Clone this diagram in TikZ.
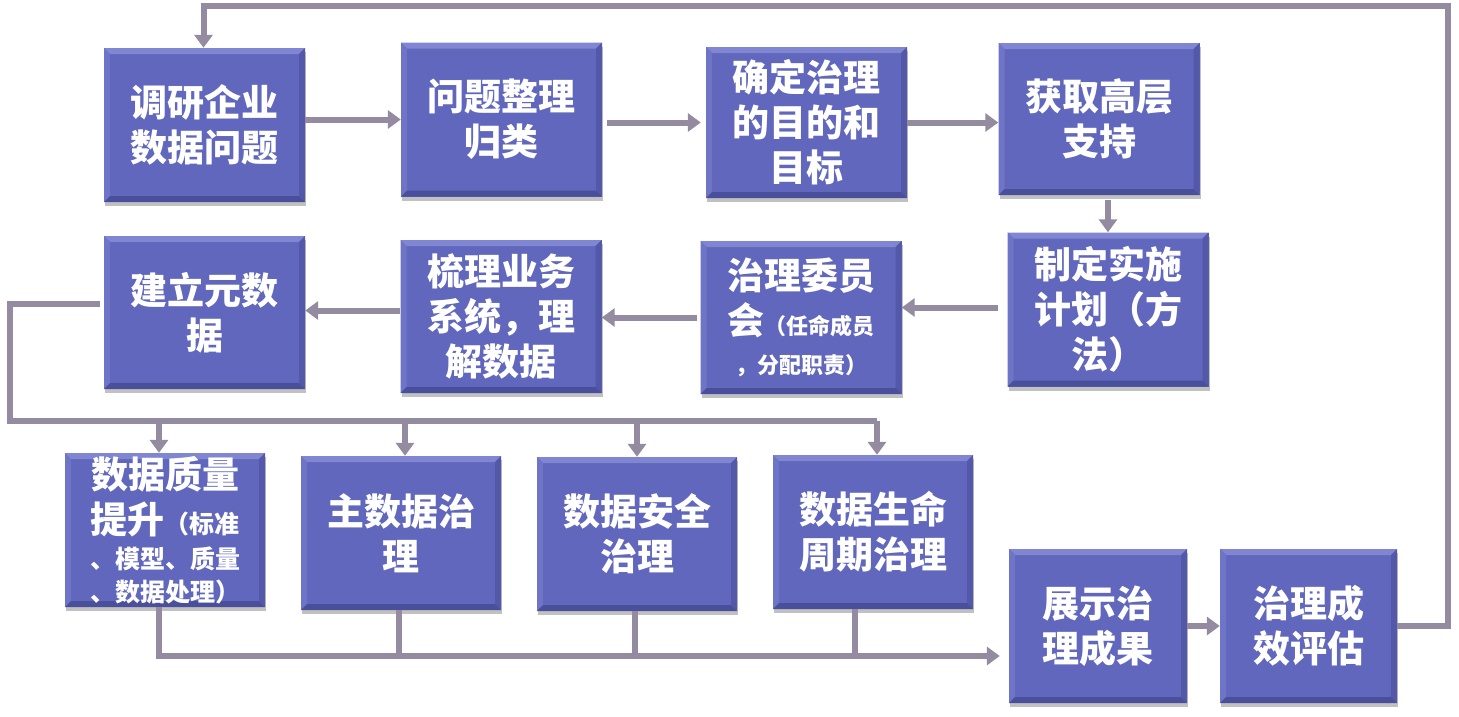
\documentclass[tikz,border=0pt]{standalone}
\usepackage{fontspec}
\newfontfamily\cjk{Noto Sans CJK SC}
\usetikzlibrary{arrows.meta,shadows,calc}
\definecolor{boxblue}{HTML}{6067BC}
\definecolor{bevtop}{HTML}{8086D2}
\definecolor{bevleft}{HTML}{6E75C6}
\definecolor{bevbot}{HTML}{4A4F9C}
\definecolor{bevright}{HTML}{5359A8}
\definecolor{linecol}{HTML}{948BA0}
\tikzset{
  procbox/.style={rectangle, minimum width=201pt, minimum height=154pt, inner sep=0pt,
    fill=boxblue, text=white, align=center,
    font=\cjk\bfseries\fontsize{37}{45}\selectfont,
    drop shadow={shadow xshift=1pt, shadow yshift=-4pt, opacity=0.35, fill=black!70},
    path picture={
      \coordinate (nw) at (path picture bounding box.north west);
      \coordinate (ne) at (path picture bounding box.north east);
      \coordinate (sw) at (path picture bounding box.south west);
      \coordinate (se) at (path picture bounding box.south east);
      \fill[bevtop] (nw) -- (ne) -- ([xshift=-6pt,yshift=-6pt]ne) -- ([xshift=6pt,yshift=-6pt]nw) -- cycle;
      \fill[bevleft] (nw) -- ([xshift=6pt,yshift=-6pt]nw) -- ([xshift=6pt,yshift=6pt]sw) -- (sw) -- cycle;
      \fill[bevright] (ne) -- ([xshift=-6pt,yshift=-6pt]ne) -- ([xshift=-6pt,yshift=6pt]se) -- (se) -- cycle;
      \fill[bevbot] (sw) -- (se) -- ([xshift=-6pt,yshift=6pt]se) -- ([xshift=6pt,yshift=6pt]sw) -- cycle;
    }},
  wire/.style={draw=linecol, line width=6pt},
  conn/.style={wire, -{Triangle[width=18pt,length=13pt]}},
}
\newcommand{\sm}{\fontsize{22}{30}\selectfont}
\newcommand{\md}{\fontsize{25}{30}\selectfont}
\begin{document}
\begin{tikzpicture}[x=1pt,y=-1pt]
\useasboundingbox (0,0) rectangle (1459,716);
% row 1
\node[procbox] (b1) at (204.5,125) {调研企业\\数据问题};
\node[procbox] (b2) at (501.5,119.5) {问题整理\\归类};
\node[procbox, minimum height=151pt] (b3) at (806.5,122.5) {确定治理\\的目的和\\目标};
\node[procbox, minimum height=152pt] (b4) at (1099,119) {获取高层\\支持};
% row 2
\node[procbox] (b5) at (1108,309.5) {制定实施\\计划（方\\法）};
\node[procbox, minimum height=153pt] (b6) at (801,317.5) {治理委员\\会{\sm（任命成员}\\[-6pt]{\sm ，分配职责）}};
\node[procbox, minimum height=153pt] (b7) at (501,316.5) {梳理业务\\系统，理\\解数据};
\node[procbox, minimum height=153pt] (b8) at (204.5,312.5) {建立元数\\据};
% row 3
\node[procbox, minimum width=200pt] (b9) at (165,530) {数据质量\\提升{\md（标准}\\[-10pt]{\md 、模型、质量}\\[-12pt]{\md 、数据处理）}};
\node[procbox, minimum width=200pt] (b10) at (401,533) {主数据治\\理};
\node[procbox, minimum width=200pt] (b11) at (637,534) {数据安全\\治理};
\node[procbox, minimum width=200pt] (b12) at (873,532) {数据生命\\周期治理};
\node[procbox, minimum width=178pt] (b13) at (1098,626) {展示治\\理成果};
\node[procbox, minimum width=177pt] (b14) at (1308.5,626) {治理成\\效评估};
% bus coordinates
\coordinate (bus) at (10,421);
\coordinate (bot) at (0,656);
\coordinate (topy) at (0,6);
\coordinate (rightx) at (1448,0);
% connectors row 1
\draw[conn] (b1.east |- b2.west) -- (b2.west);
\draw[conn] ([xshift=5pt]b2.east |- b3.west) -- ([xshift=-5pt]b3.west);
\draw[conn] (b3.east) -- (b3.east -| b4.west);
\draw[conn] ([yshift=-5pt]b4.south -| b5.north) -- (b5.north);
% row 2
\draw[conn] ([xshift=-9pt,yshift=2pt]b5.west) -- ([yshift=2pt]b5.west -| b6.east);
\draw[conn] ([xshift=-3pt]b6.west) -- (b6.west -| b7.east);
\draw[conn] ([yshift=6pt]b7.west) -- ([yshift=6pt]b7.west -| b8.east);
% distribution bus
\draw[wire] ([xshift=-4pt,yshift=9pt]b8.west) -| (bus) -- ([xshift=4pt]b12.north |- bus);
\draw[conn] ([xshift=-6pt]b9.north |- bus) -- ([xshift=-6pt]b9.north);
\draw[conn] ([xshift=4pt]b10.north |- bus) -- ([xshift=4pt]b10.north);
\draw[conn] (b11.north |- bus) -- (b11.north);
\draw[conn] ([xshift=4pt]b12.north |- bus) -- ([xshift=4pt]b12.north);
% collection bus
\draw[conn] ([xshift=-6pt]b9.south) |- ([xshift=-9pt]b13.west |- bot);
\draw[wire] ([xshift=-2pt]b10.south) -- ([xshift=-2pt]b10.south |- bot);
\draw[wire] ([xshift=-2pt]b11.south) -- ([xshift=-2pt]b11.south |- bot);
\draw[wire] ([xshift=-18pt]b12.south) -- ([xshift=-18pt]b12.south |- bot);
% results
\draw[conn] (b13.east) -- (b14.west);
\draw[conn] (b14.east) -| (rightx |- topy) -| ([xshift=-1pt]b1.north);
\end{tikzpicture}
\end{document}
